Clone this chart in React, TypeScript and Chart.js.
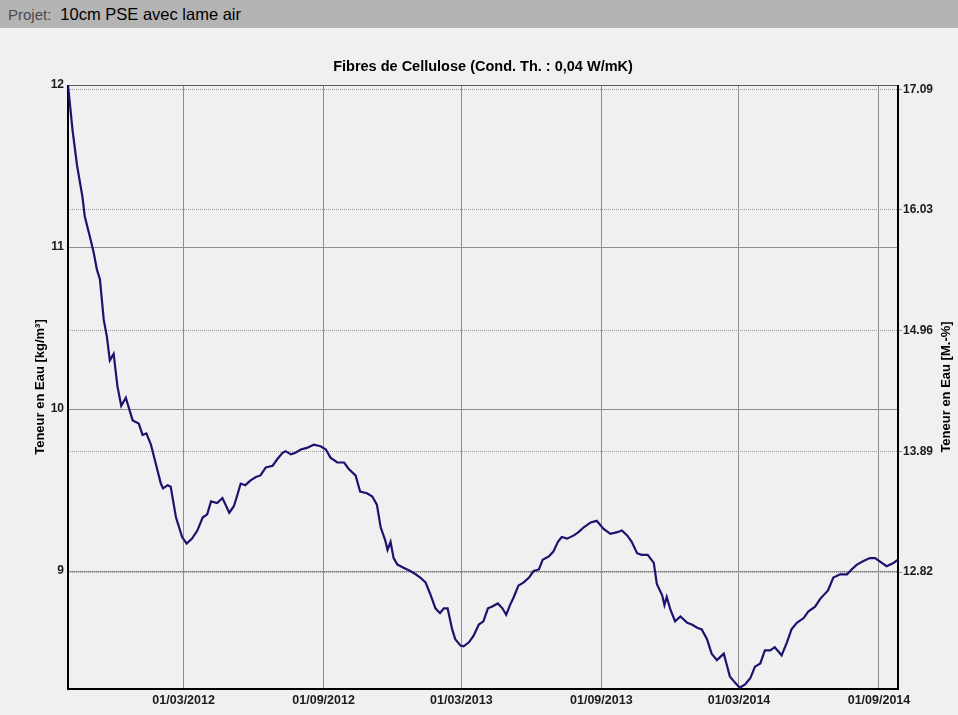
import React, { useEffect, useRef } from "react";
import { Chart, registerables } from "chart.js";

Chart.register(...registerables);

const projectLabel = "Projet:";
const projectName = "10cm PSE avec lame air";
const chartTitle = "Fibres de Cellulose (Cond. Th. : 0,04 W/mK)";
const leftAxisTitle = "Teneur en Eau [kg/m³]";
const rightAxisTitle = "Teneur en Eau [M.-%]";

// days since 01/10/2011
const days = [
  0, 6, 12, 19, 22, 30, 34, 38, 42, 47, 51, 55, 60, 65, 70, 76, 85, 93, 98, 103,
  109, 115, 122, 125, 131, 135, 142, 150, 156, 163, 170, 177, 183, 188, 196, 203, 212, 218, 222, 227,
  233, 240, 247, 253, 260, 269, 275, 282, 286, 293, 299, 306, 314, 323, 332, 339, 345, 354, 363, 369,
  378, 384, 393, 400, 406, 411, 417, 420, 424, 428, 433, 441, 450, 457, 463, 470, 476, 483, 489, 494,
  499, 505, 509, 516, 520, 527, 533, 540, 546, 552, 557, 565, 571, 576, 581, 586, 592, 599, 606, 612,
  619, 624, 632, 638, 644, 649, 656, 665, 671, 678, 687, 695, 704, 713, 722, 728, 735, 741, 748, 754,
  762, 770, 774, 781, 784, 787, 792, 798, 805, 814, 820, 827, 833, 840, 846, 853, 862, 866, 870, 877,
  883, 890, 897, 903, 910, 916, 923, 929, 938, 945, 951, 958, 967, 973, 982, 989, 999, 1006, 1015, 1024,
  1030, 1037, 1045, 1054, 1061, 1067, 1076, 1085, 1091,
];

// Teneur en Eau [kg/m³]
const waterContent = [
  12.0, 11.72, 11.5, 11.31, 11.19, 11.04, 10.96, 10.86, 10.8, 10.55, 10.45, 10.3, 10.34, 10.14, 10.02, 10.07, 9.93, 9.91, 9.84, 9.85,
  9.78, 9.67, 9.54, 9.51, 9.53, 9.52, 9.33, 9.21, 9.17, 9.2, 9.25, 9.33, 9.35, 9.43, 9.42, 9.45, 9.36, 9.4, 9.46, 9.54,
  9.53, 9.56, 9.58, 9.59, 9.64, 9.65, 9.69, 9.73, 9.74, 9.72, 9.73, 9.75, 9.76, 9.78, 9.77, 9.75, 9.7, 9.67, 9.67, 9.63,
  9.59, 9.49, 9.48, 9.46, 9.41, 9.27, 9.19, 9.13, 9.18, 9.08, 9.04, 9.02, 9.0, 8.98, 8.96, 8.93, 8.86, 8.77, 8.74, 8.77,
  8.77, 8.64, 8.58, 8.54, 8.535, 8.56, 8.6, 8.67, 8.69, 8.77, 8.78, 8.8, 8.77, 8.73, 8.79, 8.84, 8.91, 8.93, 8.96, 9.0,
  9.01, 9.07, 9.09, 9.12, 9.18, 9.21, 9.2, 9.22, 9.24, 9.27, 9.3, 9.31, 9.26, 9.23, 9.24, 9.25, 9.22, 9.18, 9.11, 9.1,
  9.1, 9.05, 8.92, 8.85, 8.79, 8.84, 8.76, 8.69, 8.72, 8.68, 8.67, 8.65, 8.64, 8.58, 8.49, 8.45, 8.49, 8.42, 8.35, 8.31,
  8.28, 8.3, 8.34, 8.41, 8.43, 8.51, 8.51, 8.53, 8.48, 8.56, 8.64, 8.68, 8.71, 8.75, 8.78, 8.83, 8.88, 8.96, 8.98, 8.98,
  9.01, 9.04, 9.06, 9.08, 9.08, 9.06, 9.03, 9.05, 9.07,
];

const xTickDays = [152, 336, 517, 701, 882, 1066];
const xTickLabels = ["01/03/2012", "01/09/2012", "01/03/2013", "01/09/2013", "01/03/2014", "01/09/2014"];
const xMin = 0;
const xMax = 1091;

const leftTicks = [9, 10, 11, 12];
const leftMin = 8.272;
const leftMax = 12;

const rightTicks = [12.82, 13.89, 14.96, 16.03, 17.09];
const rightMin = 11.784;
const rightMax = 17.134;

const FONT = '"Liberation Sans", Arial, sans-serif';

const decorPlugin = {
  id: "decor",
  beforeDatasetsDraw(chart: any) {
    const { ctx, chartArea: a } = chart;
    ctx.save();
    ctx.strokeStyle = "#5a5a5a";
    ctx.lineWidth = 1;
    ctx.beginPath();
    ctx.moveTo(a.left, a.top + 0.5);
    ctx.lineTo(a.right, a.top + 0.5);
    ctx.stroke();
    ctx.strokeStyle = "#000";
    ctx.lineWidth = 2;
    ctx.beginPath();
    ctx.moveTo(a.left, a.top);
    ctx.lineTo(a.left, a.bottom);
    ctx.lineTo(a.right, a.bottom);
    ctx.lineTo(a.right, a.top);
    ctx.stroke();
    ctx.restore();
  },
  afterDraw(chart: any) {
    const { ctx, chartArea: a } = chart;
    const cy = (a.top + a.bottom) / 2;
    ctx.save();
    ctx.fillStyle = "#000";
    ctx.textAlign = "center";
    ctx.textBaseline = "middle";
    ctx.font = `bold 14.5px ${FONT}`;
    ctx.fillText(chartTitle, (a.left + a.right) / 2, 67);
    ctx.font = `bold 13px ${FONT}`;
    ctx.save();
    ctx.translate(40, cy);
    ctx.rotate(-Math.PI / 2);
    ctx.fillText(leftAxisTitle, 0, 0);
    ctx.restore();
    ctx.save();
    ctx.translate(946, cy);
    ctx.rotate(-Math.PI / 2);
    ctx.fillText(rightAxisTitle, 0, 0);
    ctx.restore();
    ctx.restore();
  },
};

export default function App() {
  const canvasRef = useRef<HTMLCanvasElement | null>(null);

  useEffect(() => {
    const canvas = canvasRef.current;
    if (!canvas) return;
    const points = days.map((d, i) => ({ x: d, y: waterContent[i] }));
    const chart = new Chart(canvas, {
      type: "line",
      data: {
        datasets: [
          {
            data: points,
            borderColor: "#1b136e",
            borderWidth: 2.2,
            pointRadius: 0,
            tension: 0,
            fill: false,
            yAxisID: "y",
          },
        ],
      },
      options: {
        animation: false,
        responsive: false,
        maintainAspectRatio: false,
        devicePixelRatio: 1,
        layout: { padding: { top: 85, left: 0, right: 0, bottom: 0 } },
        plugins: {
          legend: { display: false },
          tooltip: { enabled: false },
          title: { display: false },
        },
        scales: {
          x: {
            type: "linear",
            min: xMin,
            max: xMax,
            afterBuildTicks: (s: any) => {
              s.ticks = xTickDays.map((v) => ({ value: v }));
            },
            afterFit: (s: any) => {
              s.height = 26;
            },
            ticks: {
              autoSkip: false,
              maxRotation: 0,
              minRotation: 0,
              padding: 4,
              color: "#1a1a1a",
              font: { family: FONT, size: 12.5, weight: "bold" },
              callback: (v: any) => {
                const i = xTickDays.indexOf(Number(v));
                return i >= 0 ? xTickLabels[i] : "";
              },
            },
            grid: { color: "#8e8e8e", lineWidth: 1, drawTicks: false },
            border: { display: false },
          },
          y: {
            type: "linear",
            position: "left",
            min: leftMin,
            max: leftMax,
            afterBuildTicks: (s: any) => {
              s.ticks = leftTicks.map((v) => ({ value: v }));
            },
            afterFit: (s: any) => {
              s.width = 68;
            },
            ticks: {
              padding: 4,
              color: "#1a1a1a",
              font: { family: FONT, size: 12, weight: "bold" },
              callback: (v: any) => String(v),
            },
            grid: { color: "#8e8e8e", lineWidth: 1, drawTicks: false },
            border: { display: false },
          },
          y1: {
            type: "linear",
            position: "right",
            min: rightMin,
            max: rightMax,
            afterBuildTicks: (s: any) => {
              s.ticks = rightTicks.map((v) => ({ value: v }));
            },
            afterFit: (s: any) => {
              s.width = 60;
            },
            ticks: {
              padding: 1,
              color: "#1a1a1a",
              font: { family: FONT, size: 12, weight: "bold" },
              callback: (v: any) => Number(v).toFixed(2),
            },
            grid: {
              color: "#9a9a9a",
              lineWidth: 1,
              drawTicks: true,
              tickLength: 4,
              tickColor: "#8e8e8e",
            },
            border: { display: false, dash: [1, 1] },
          },
        },
      },
      plugins: [decorPlugin],
    } as any);
    return () => chart.destroy();
  }, []);

  return (
    <div
      style={{
        position: "fixed",
        left: 0,
        top: 0,
        width: 958,
        height: 715,
        background: "#f0f0f0",
        overflow: "hidden",
      }}
    >
      <canvas
        ref={canvasRef}
        width={958}
        height={715}
        style={{ position: "absolute", left: 0, top: 0, width: 958, height: 715 }}
      />
      <div
        style={{
          position: "absolute",
          left: 0,
          top: 0,
          width: 958,
          height: 28,
          background: "#b4b4b4",
          display: "flex",
          alignItems: "center",
          fontFamily: FONT,
          whiteSpace: "nowrap",
        }}
      >
        <span style={{ marginLeft: 8, fontSize: 15, color: "#4a4a4a" }}>{projectLabel}</span>
        <span style={{ marginLeft: 9, fontSize: 16.5, color: "#000" }}>{projectName}</span>
      </div>
    </div>
  );
}
